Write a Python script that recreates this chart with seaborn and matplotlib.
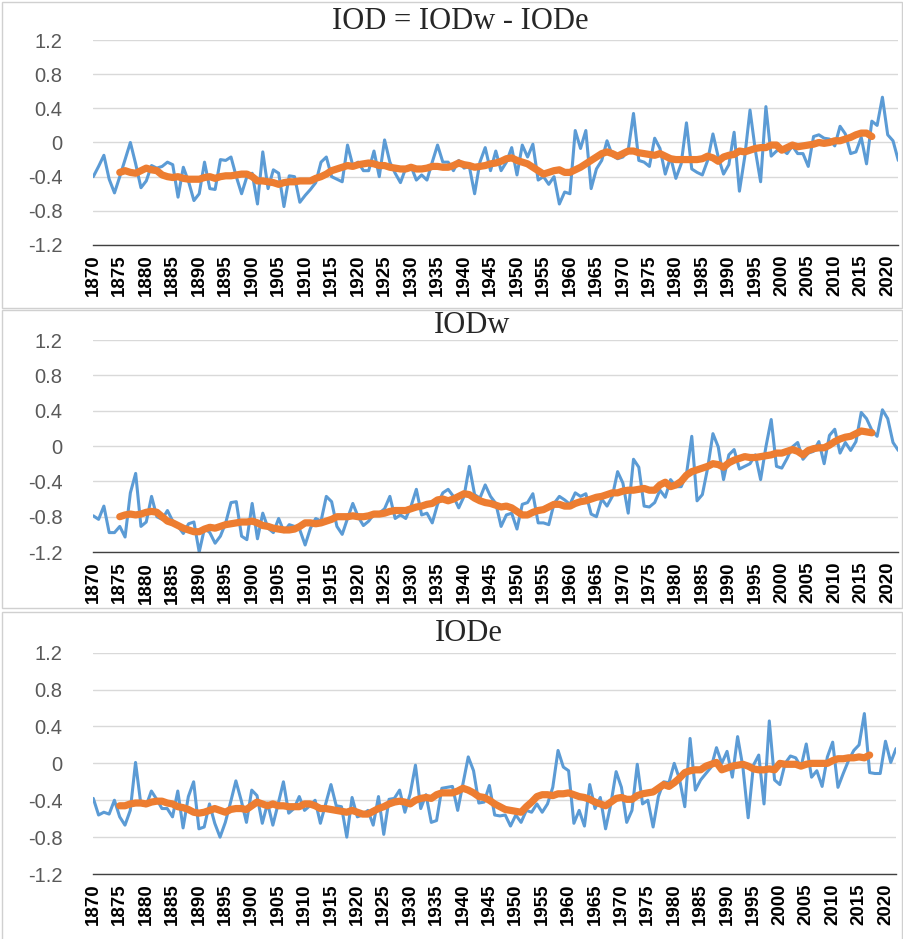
import matplotlib
matplotlib.use("Agg")
import matplotlib.pyplot as plt
import matplotlib.patches as patches
import seaborn as sns
import numpy as np

# ----------- Data -----------
years = list(range(1870, 2023))
ma_years = list(range(1875, 2018))

iod = [
    -0.40, -0.28, -0.15, -0.43, -0.59, -0.40, -0.20, 0.00, -0.25, -0.53,   # 1870s
    -0.45, -0.27, -0.30, -0.28, -0.23, -0.26, -0.64, -0.29, -0.46, -0.68,  # 1880s
    -0.60, -0.23, -0.54, -0.55, -0.20, -0.21, -0.17, -0.40, -0.60, -0.40,  # 1890s
    -0.36, -0.72, -0.11, -0.54, -0.32, -0.36, -0.75, -0.39, -0.40, -0.70,  # 1900s
    -0.62, -0.55, -0.47, -0.23, -0.17, -0.40, -0.43, -0.46, -0.03, -0.27,  # 1910s
    -0.23, -0.33, -0.33, -0.10, -0.40, 0.03, -0.23, -0.36, -0.47, -0.30,   # 1920s
    -0.28, -0.44, -0.38, -0.44, -0.23, -0.03, -0.23, -0.23, -0.33, -0.21,  # 1930s
    -0.30, -0.28, -0.60, -0.23, -0.06, -0.33, -0.10, -0.33, -0.23, -0.06,  # 1940s
    -0.38, -0.03, -0.17, -0.02, -0.44, -0.40, -0.49, -0.40, -0.72, -0.58,  # 1950s
    -0.60, 0.14, -0.07, 0.14, -0.54, -0.31, -0.21, 0.02, -0.15, -0.19,     # 1960s
    -0.17, -0.09, 0.34, -0.21, -0.23, -0.28, 0.05, -0.07, -0.37, -0.17,    # 1970s
    -0.42, -0.25, 0.23, -0.31, -0.35, -0.38, -0.21, 0.10, -0.17, -0.37,    # 1980s
    -0.26, 0.12, -0.57, -0.17, 0.38, -0.09, -0.46, 0.42, -0.16, -0.10,     # 1990s
    -0.08, -0.13, -0.04, -0.13, -0.13, -0.28, 0.07, 0.09, 0.05, 0.04,      # 2000s
    -0.04, 0.19, 0.10, -0.13, -0.11, 0.06, -0.25, 0.25, 0.20, 0.53,        # 2010s
    0.09, 0.02, -0.21,                                                      # 2020s
]
iod_ma = [
    -0.35, -0.33, -0.35, -0.36, -0.33,
    -0.30, -0.32, -0.33, -0.38, -0.40, -0.41, -0.40, -0.42, -0.43, -0.43,
    -0.43, -0.41, -0.40, -0.42, -0.40, -0.39, -0.39, -0.38, -0.37, -0.37,
    -0.40, -0.45, -0.45, -0.46, -0.47, -0.49, -0.47, -0.46, -0.46, -0.45,
    -0.45, -0.45, -0.42, -0.40, -0.37, -0.33, -0.31, -0.29, -0.27, -0.28,
    -0.26, -0.25, -0.24, -0.25, -0.27, -0.27, -0.29, -0.30, -0.31, -0.31,
    -0.29, -0.31, -0.31, -0.30, -0.28, -0.28, -0.29, -0.29, -0.27, -0.24,
    -0.26, -0.27, -0.29, -0.28, -0.27, -0.25, -0.24, -0.22, -0.19, -0.18,
    -0.21, -0.23, -0.25, -0.29, -0.33, -0.37, -0.35, -0.33, -0.32, -0.35,
    -0.35, -0.32, -0.29, -0.25, -0.21, -0.17, -0.13, -0.11, -0.13, -0.16,
    -0.13, -0.10, -0.10, -0.12, -0.13, -0.14, -0.15, -0.13, -0.16, -0.19,
    -0.20, -0.20, -0.20, -0.20, -0.20, -0.19, -0.16, -0.18, -0.22, -0.17,
    -0.15, -0.14, -0.10, -0.11, -0.09, -0.07, -0.06, -0.06, -0.03, -0.03,
    -0.09, -0.06, -0.03, -0.05, -0.04, -0.03, -0.02, 0.00, -0.01, 0.00,
    0.02, 0.02, 0.04, 0.06, 0.09, 0.11, 0.11, 0.07,
]

iodw = [
    -0.79, -0.83, -0.68, -0.98, -0.98, -0.91, -1.03, -0.53, -0.31, -0.91,
    -0.86, -0.57, -0.80, -0.83, -0.73, -0.85, -0.91, -0.99, -0.88, -0.86,
    -1.20, -0.93, -0.98, -1.10, -1.02, -0.87, -0.64, -0.63, -1.02, -1.06,
    -0.65, -1.05, -0.76, -0.93, -0.98, -0.82, -0.97, -0.89, -0.91, -0.95,
    -1.12, -0.93, -0.82, -0.85, -0.57, -0.63, -0.91, -1.00, -0.82, -0.65,
    -0.80, -0.90, -0.85, -0.77, -0.76, -0.71, -0.57, -0.82, -0.78, -0.82,
    -0.68, -0.49, -0.78, -0.76, -0.87, -0.66, -0.53, -0.49, -0.57, -0.70,
    -0.57, -0.23, -0.55, -0.59, -0.44, -0.57, -0.65, -0.91, -0.78, -0.76,
    -0.94, -0.66, -0.64, -0.54, -0.87, -0.87, -0.89, -0.65, -0.57, -0.61,
    -0.66, -0.53, -0.57, -0.54, -0.77, -0.80, -0.60, -0.68, -0.57, -0.29,
    -0.42, -0.76, -0.15, -0.24, -0.68, -0.69, -0.64, -0.50, -0.58, -0.38,
    -0.46, -0.46, -0.32, 0.11, -0.62, -0.55, -0.25, 0.14, -0.01, -0.38,
    -0.10, -0.04, -0.26, -0.23, -0.20, -0.10, -0.38, -0.01, 0.30, -0.23,
    -0.25, -0.14, -0.01, 0.04, -0.15, -0.08, -0.06, 0.05, -0.20, 0.12,
    0.19, -0.08, 0.04, -0.05, 0.05, 0.38, 0.31, 0.18, 0.11, 0.41,
    0.31, 0.04, -0.05,
]
iodw_ma = [
    -0.80, -0.78, -0.77, -0.78, -0.77,
    -0.75, -0.74, -0.75, -0.80, -0.85, -0.87, -0.90, -0.93, -0.95, -0.97,
    -0.97, -0.94, -0.92, -0.93, -0.91, -0.89, -0.88, -0.87, -0.86, -0.86,
    -0.85, -0.87, -0.90, -0.91, -0.93, -0.94, -0.95, -0.95, -0.94, -0.91,
    -0.87, -0.87, -0.88, -0.87, -0.85, -0.83, -0.80, -0.80, -0.80, -0.79,
    -0.80, -0.80, -0.79, -0.77, -0.77, -0.76, -0.74, -0.73, -0.73, -0.73,
    -0.71, -0.69, -0.68, -0.66, -0.65, -0.61, -0.60, -0.62, -0.60, -0.57,
    -0.54, -0.55, -0.59, -0.62, -0.64, -0.65, -0.67, -0.69, -0.68, -0.70,
    -0.74, -0.78, -0.78, -0.75, -0.73, -0.72, -0.69, -0.66, -0.66, -0.68,
    -0.68, -0.65, -0.63, -0.62, -0.60, -0.58, -0.57, -0.55, -0.53, -0.53,
    -0.51, -0.50, -0.50, -0.49, -0.48, -0.50, -0.50, -0.44, -0.41, -0.46,
    -0.44, -0.40, -0.33, -0.29, -0.27, -0.25, -0.23, -0.20, -0.21, -0.24,
    -0.19, -0.16, -0.14, -0.12, -0.13, -0.13, -0.12, -0.11, -0.10, -0.08,
    -0.08, -0.06, -0.04, -0.06, -0.10, -0.05, -0.03, -0.02, -0.02, 0.01,
    0.05, 0.08, 0.10, 0.11, 0.14, 0.17, 0.16, 0.15,
]

iode = [
    -0.38, -0.56, -0.53, -0.55, -0.40, -0.58, -0.67, -0.51, 0.01, -0.44,
    -0.46, -0.30, -0.39, -0.49, -0.49, -0.58, -0.30, -0.70, -0.36, -0.20,
    -0.71, -0.69, -0.44, -0.65, -0.80, -0.64, -0.42, -0.19, -0.40, -0.64,
    -0.29, -0.35, -0.65, -0.43, -0.67, -0.44, -0.20, -0.54, -0.49, -0.36,
    -0.51, -0.46, -0.40, -0.65, -0.44, -0.23, -0.46, -0.47, -0.80, -0.37,
    -0.58, -0.56, -0.51, -0.67, -0.36, -0.77, -0.39, -0.38, -0.29, -0.53,
    -0.33, -0.02, -0.49, -0.34, -0.64, -0.62, -0.27, -0.26, -0.25, -0.51,
    -0.22, 0.07, -0.08, -0.43, -0.42, -0.24, -0.56, -0.57, -0.56, -0.68,
    -0.56, -0.64, -0.51, -0.53, -0.44, -0.53, -0.44, -0.26, 0.14, -0.04,
    -0.08, -0.65, -0.51, -0.68, -0.23, -0.49, -0.37, -0.71, -0.44, -0.09,
    -0.26, -0.64, -0.51, -0.01, -0.44, -0.40, -0.69, -0.36, -0.20, -0.21,
    0.00, -0.17, -0.47, 0.27, -0.29, -0.18, -0.11, -0.04, 0.17, 0.00,
    0.13, -0.15, 0.29, -0.04, -0.59, -0.02, 0.09, -0.44, 0.46, -0.18,
    -0.23, 0.00, 0.08, 0.06, -0.04, 0.21, -0.15, -0.08, -0.25, 0.07,
    0.23, -0.26, -0.11, 0.03, 0.14, 0.20, 0.54, -0.10, -0.11, -0.11,
    0.24, 0.01, 0.16,
]
iode_ma = [
    -0.46, -0.46, -0.44, -0.43, -0.43,
    -0.44, -0.42, -0.41, -0.41, -0.43, -0.44, -0.47, -0.48, -0.50, -0.53,
    -0.54, -0.53, -0.51, -0.49, -0.51, -0.53, -0.50, -0.49, -0.49, -0.50,
    -0.46, -0.42, -0.44, -0.46, -0.44, -0.46, -0.46, -0.47, -0.47, -0.47,
    -0.44, -0.44, -0.46, -0.49, -0.49, -0.50, -0.51, -0.52, -0.53, -0.51,
    -0.53, -0.55, -0.55, -0.52, -0.49, -0.47, -0.44, -0.42, -0.41, -0.42,
    -0.44, -0.40, -0.38, -0.37, -0.38, -0.34, -0.32, -0.32, -0.32, -0.30,
    -0.27, -0.29, -0.32, -0.36, -0.37, -0.40, -0.44, -0.47, -0.50, -0.51,
    -0.52, -0.53, -0.47, -0.42, -0.36, -0.34, -0.34, -0.35, -0.33, -0.33,
    -0.32, -0.34, -0.36, -0.37, -0.39, -0.42, -0.44, -0.46, -0.42, -0.38,
    -0.37, -0.39, -0.39, -0.35, -0.33, -0.32, -0.31, -0.27, -0.23, -0.25,
    -0.21, -0.16, -0.10, -0.08, -0.07, -0.07, -0.03, -0.01, 0.01, -0.07,
    -0.05, -0.03, -0.02, -0.01, -0.03, -0.06, -0.07, -0.07, -0.06, -0.07,
    0.00, -0.01, -0.01, -0.01, -0.03, -0.01, 0.00, 0.00, 0.00, 0.00,
    0.03, 0.05, 0.05, 0.06, 0.06, 0.07, 0.06, 0.09,
]

titles = ["IOD = IODw - IODe", "IODw", "IODe"]
yticks = [-1.2, -0.8, -0.4, 0, 0.4, 0.8, 1.2]
xticks = list(range(1870, 2021, 5))

# ----------- Style -----------
sns.set_style("white")
plt.rcParams["font.family"] = ["Liberation Sans", "DejaVu Sans"]
plt.rcParams["axes.unicode_minus"] = False

blue = "#5b9bd5"
orange = "#ed7d31"
grid_c = "#d9d9d9"

fig = plt.figure(figsize=(9.04, 9.39), dpi=100)

# axes boxes in figure fraction: left, bottom, width, height
boxes = [
    [0.1032, 0.7391, 0.8905, 0.2183],
    [0.1032, 0.4121, 0.8905, 0.2258],
    [0.1032, 0.0692, 0.8880, 0.2357],
]
title_x = [0.509, 0.522, 0.519]
title_y = [0.977, 0.653, 0.325]
frames = [(0.002, 0.672, 0.996, 0.326), (0.002, 0.352, 0.996, 0.318), (0.002, -0.01, 0.996, 0.358)]

series = [(iod, iod_ma), (iodw, iodw_ma), (iode, iode_ma)]

for i, (raw, ma) in enumerate(series):
    fx, fy, fw, fh = frames[i]
    fig.add_artist(patches.Rectangle((fx, fy), fw, fh, transform=fig.transFigure,
                                     fill=False, edgecolor="#d0d0d0", linewidth=1.0))

    ax = fig.add_axes(boxes[i])
    sns.lineplot(x=years, y=raw, ax=ax, color=blue, linewidth=2.2)
    sns.lineplot(x=ma_years, y=ma, ax=ax, color=orange, linewidth=5.2,
                 solid_capstyle="round")

    ax.set_xlim(1870, 2022)
    ax.set_ylim(-1.2, 1.2)
    ax.set_yticks(yticks)
    ax.set_yticklabels([f"{v:g}" for v in yticks], fontsize=14.5, color="#595959")
    ax.set_xticks(xticks)
    ax.set_xticklabels([str(y) for y in xticks], rotation=90, fontsize=13.5,
                       fontweight="bold", color="black")
    ax.tick_params(axis="x", direction="out", length=5, width=1, color="#404040", pad=2)
    ax.tick_params(axis="y", length=0, pad=22)
    ax.yaxis.grid(True, color=grid_c, linewidth=1.0)
    ax.set_axisbelow(True)
    for side in ["top", "right", "left"]:
        ax.spines[side].set_visible(False)
    ax.spines["bottom"].set_color("#404040")
    ax.spines["bottom"].set_linewidth(1.0)
    ax.set_xlabel("")
    ax.set_ylabel("")

    fig.text(title_x[i], title_y[i], titles[i], ha="center", va="center",
             fontsize=22, family=["Liberation Serif", "DejaVu Serif"])

fig.savefig("out.png", dpi=100)
